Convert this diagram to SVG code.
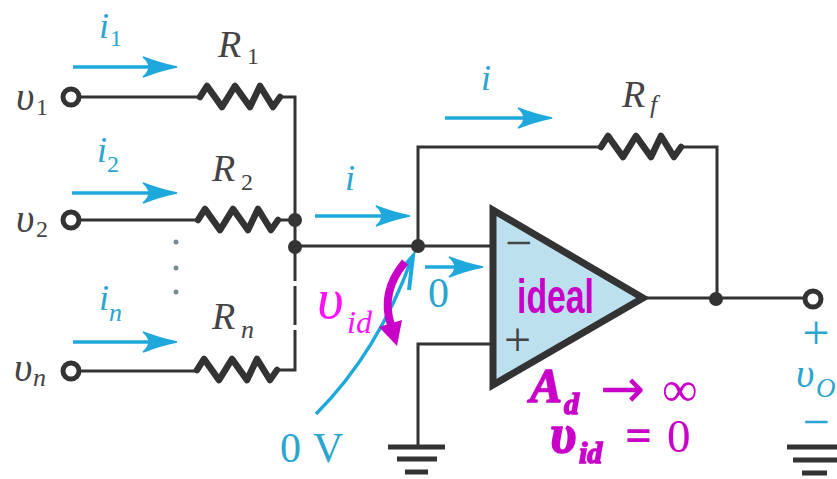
<svg xmlns="http://www.w3.org/2000/svg" width="837" height="479" viewBox="0 0 837 479">
<defs>
<style>
.w{fill:none;stroke:#333;stroke-width:3;stroke-linejoin:miter}
.r{fill:none;stroke:#333;stroke-width:6.5;stroke-linejoin:round;stroke-linecap:round}
.t{fill:#fff;stroke:#333;stroke-width:5}
.d{fill:#333}
.b{fill:none;stroke:#1fa8dc;stroke-width:3.5}
.h{fill:#1fa8dc;stroke:#1fa8dc;stroke-width:1.5;stroke-linejoin:miter}
.o{fill:none;stroke:#1fa8dc;stroke-width:4}
.g{stroke:#333;stroke-width:5;fill:none}
.k{font-family:"Liberation Serif",serif;fill:#444}
.c{font-family:"Liberation Serif",serif;fill:#2aa5cf}
.m{font-family:"Liberation Serif",serif;fill:#c800c8}
.s{stroke:#c800c8;stroke-width:1.5}
text{font-style:italic}
.u{font-style:normal}
</style>
<path id="zig" d="M0 0L7 -11L22 10L35 -11L50 10L60 -11L73 10L80 0"/>
<path id="head" d="M-34 -10Q-16 -3 0 0Q-16 3 -34 10Q-22 0 -34 -10Z"/>
</defs>
<rect width="837" height="479" fill="#fff"/>
<g id="connectors">
<path class="w" d="M78 97H200M280 97H295V246"/>
<path class="w" d="M79 220H198M278 220H295"/>
<path class="w" d="M79 371H197M277 370H295V330M295 325V286M295 281V246"/>
<path class="w" d="M295 246H490"/>
<path class="w" d="M418 246V147H601M681 147H717V298"/>
<path class="w" d="M643 298H805"/>
<path class="w" d="M490 344H418V446"/>
<path class="b" d="M73 67H170"/><use href="#head" class="h" x="177" y="67"/>
<path class="b" d="M72 193H170"/><use href="#head" class="h" x="177" y="193"/>
<path class="b" d="M73 342H170"/><use href="#head" class="h" x="177" y="342"/>
<path class="b" d="M315 216H403"/><use href="#head" class="h" x="410" y="216"/>
<path class="b" d="M445 118H545"/><use href="#head" class="h" x="552" y="118"/>
<path class="b" d="M425 267H476"/><use href="#head" class="h" x="483" y="267"/>
<path class="b" d="M316 414Q378 352 412 258"/>
<path class="o" d="M399 272L413 256L409 290"/>
<path d="M405 262Q380 292 391 325" fill="none" stroke="#c800c8" stroke-width="8"/>
<path d="M379 327L402 320L397 346Z" fill="#c800c8"/>
</g>
<g id="R1"><use href="#zig" class="r" x="200" y="97"/><text class="k" x="218" y="57" font-size="38">R</text><text class="k u" x="247" y="64" font-size="24">1</text></g>
<g id="R2"><use href="#zig" class="r" x="198" y="220"/><text class="k" x="212" y="181" font-size="38">R</text><text class="k u" x="241" y="190" font-size="24">2</text></g>
<g id="Rn"><use href="#zig" class="r" x="197" y="370"/><text class="k" x="212" y="329" font-size="38">R</text><text class="k" x="241" y="338" font-size="26">n</text></g>
<g id="Rf"><use href="#zig" class="r" x="601" y="147"/><text class="k" x="622" y="107" font-size="38">R</text><text class="k" x="650" y="113" font-size="26">f</text></g>
<g id="v1"><circle class="t" cx="71" cy="97" r="8"/><text class="k" x="16" y="110" font-size="40">υ</text><text class="k u" x="36" y="115" font-size="24">1</text></g>
<g id="v2"><circle class="t" cx="71" cy="220" r="8"/><text class="k" x="16" y="232" font-size="40">υ</text><text class="k u" x="36" y="237" font-size="24">2</text></g>
<g id="vn"><circle class="t" cx="71" cy="371" r="8"/><text class="k" x="14" y="381" font-size="40">υ</text><text class="k" x="33" y="386" font-size="26">n</text></g>
<g id="vo"><circle class="t" cx="813" cy="299" r="8"/><text class="c u" x="816" y="349" font-size="48" text-anchor="middle">+</text><text class="c" x="796" y="387" font-size="40">υ</text><text class="c" x="816" y="397" font-size="27">O</text><text class="c u" x="816" y="438" font-size="48" text-anchor="middle">−</text></g>
<g id="opamp"><path d="M493 210V385L643 298Z" fill="#bde0ee" stroke="#333" stroke-width="7"/>
<text class="k u" x="505" y="259" font-size="48">−</text>
<text class="k u" x="504" y="356" font-size="48">+</text>
<text x="517" y="313" font-family="'Liberation Sans',sans-serif" class="u" font-size="49" font-weight="bold" fill="#c800c8" textLength="77" lengthAdjust="spacingAndGlyphs">ideal</text></g>
<g id="dots"><circle class="d" cx="295" cy="220" r="7"/><circle class="d" cx="295" cy="247" r="7"/><circle class="d" cx="418" cy="246" r="7"/><circle class="d" cx="716" cy="299" r="7"/>
<circle cx="176" cy="242" r="2.5" fill="#7b8a90"/><circle cx="176" cy="268" r="2.5" fill="#7b8a90"/><circle cx="176" cy="292" r="2.5" fill="#7b8a90"/></g>
<g id="gnd1"><path class="g" d="M388 447H445M397 459H437M405 472H428"/></g>
<g id="gnd2"><path class="g" d="M787 447H837M793 460H837M802 473H827"/></g>
<g id="labels">
<text class="c" x="99" y="38" font-size="36">i</text><text class="c u" x="110" y="46" font-size="24">1</text>
<text class="c" x="97" y="162" font-size="36">i</text><text class="c u" x="107" y="172" font-size="24">2</text>
<text class="c" x="99" y="310" font-size="36">i</text><text class="c" x="109" y="321" font-size="26">n</text>
<text class="c" x="345" y="190" font-size="36">i</text>
<text class="c" x="481" y="90" font-size="36">i</text>
<text class="c u" x="428" y="307" font-size="42">0</text>
<text class="c u" x="280" y="462" font-size="42">0</text>
<text class="c u" x="313" y="462" font-size="42">V</text>
<text x="317" y="318" font-family="'Liberation Serif',serif" font-size="58" fill="#ff10ff">υ</text>
<text x="347" y="333" font-family="'Liberation Serif',serif" font-size="32" fill="#ff10ff">id</text>
<text class="m s" x="530" y="402" font-size="48" font-weight="bold">A</text>
<text class="m s" x="564" y="414" font-size="30" font-weight="bold">d</text>
<text x="600" y="407" font-family="'DejaVu Sans',sans-serif" class="u" font-size="54" fill="#c800c8">→</text>
<text class="m u" x="662" y="406" font-size="50">∞</text>
<text class="m s" x="550" y="452" font-size="54" font-weight="bold">υ</text>
<text class="m s" x="579" y="463" font-size="30" font-weight="bold">id</text>
<text class="m u s" x="626" y="450" font-size="44">=</text>
<text class="m u" x="667" y="452" font-size="47">0</text>
</g>
</svg>
